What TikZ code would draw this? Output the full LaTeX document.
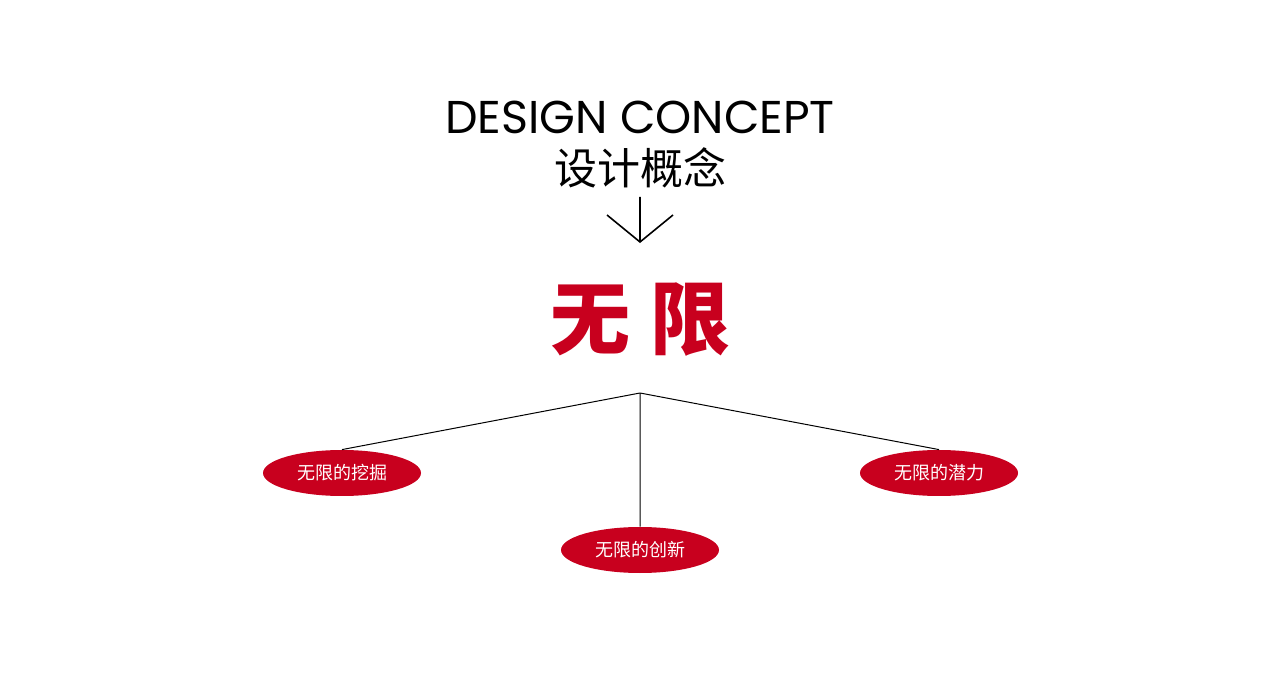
\documentclass[tikz,border=0pt]{standalone}
\usepackage{fontspec}
\usetikzlibrary{shapes.geometric}
\setmainfont{Poppins}
\newfontfamily\cjk{Noto Sans CJK SC}
\definecolor{brandred}{HTML}{C8001E}
\begin{document}
\begin{tikzpicture}[x=0.5pt,y=-0.5pt,
  pill/.style={ellipse,fill=brandred,minimum width=79pt,minimum height=23pt,inner sep=0pt,text=white,font=\cjk\fontsize{9}{9}\selectfont},
  thin/.style={draw=black,line width=0.5pt}]
\useasboundingbox (0,0) rectangle (1280,689);
\node (t1) at (640,117) {\fontsize{23}{23}\selectfont DESIGN CONCEPT};
\node (t2) at (640,168) {\cjk\fontsize{21.5}{21.5}\selectfont 设计概念};
\coordinate (a0) at (640,197);
\coordinate (a1) at (640,242);
\coordinate (al) at (607,215);
\coordinate (ar) at (673,215);
\draw[line width=0.8pt] (a0) -- (a1) (al) -- (a1) -- (ar);
\node[text=brandred] (main) at (640,320) {\cjk\bfseries\fontsize{40}{40}\selectfont 无\hspace{10pt}限};
\coordinate (hub) at (640,393);
\node[pill] (l) at (342,473) {无限的挖掘};
\node[pill] (m) at (640,550) {无限的创新};
\node[pill] (r) at (939,473) {无限的潜力};
\draw[thin] (hub) -- (l.north) (hub) -- (m.north) (hub) -- (r.north);
\end{tikzpicture}
\end{document}
